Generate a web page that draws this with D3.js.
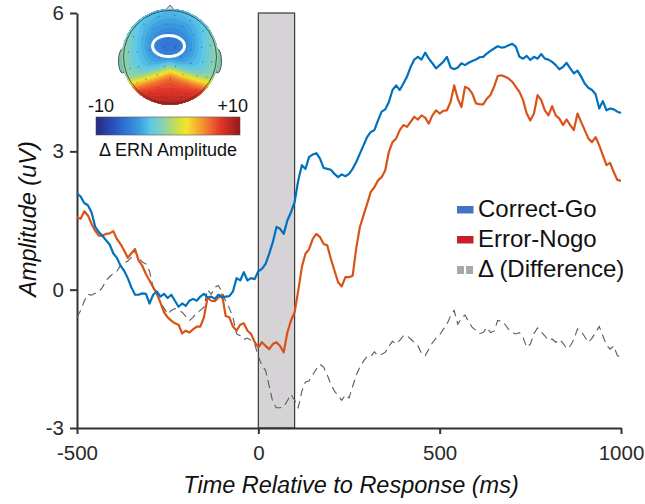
<!DOCTYPE html>
<html>
<head>
<meta charset="utf-8">
<script src="https://cdn.jsdelivr.net/npm/d3@7"></script>
<style>
  body { margin: 0; background: #fff; }
  svg { display: block; font-family: "Liberation Sans", Arial, sans-serif; }
</style>
</head>
<body>
<svg id="chart" width="645" height="504"></svg>
<script>
// sample grid: one value every 10 ms from -500 ms
const tStart = -500;
const tStep = 10;

const correctGo = [
  2.09, 2.02, 1.88, 1.83, 1.68, 1.37, 1.25, 1.17, 1.07, 0.98,
  0.79, 0.69, 0.52, 0.41, 0.25, 0.05, -0.11, -0.11, -0.08, -0.09,
  -0.30, -0.11, -0.04, -0.15, -0.09, -0.18, -0.11, -0.24, -0.37, -0.30,
  -0.35, -0.24, -0.20, -0.24, -0.15, -0.09, -0.17, -0.15, -0.20, -0.11,
  -0.17, -0.15, -0.14, -0.04, 0.25, 0.20, 0.38, 0.20, 0.25, 0.23,
  0.40, 0.45, 0.56, 0.78, 1.03, 1.36, 1.32, 1.21, 1.50, 1.68,
  1.90, 2.37, 2.70, 2.62, 2.88, 2.93, 2.96, 2.84, 2.64, 2.62,
  2.60, 2.51, 2.44, 2.50, 2.46, 2.51, 2.62, 2.77, 2.95, 3.13,
  3.31, 3.42, 3.46, 3.67, 3.86, 3.91, 4.07, 4.33, 4.43, 4.33,
  4.47, 4.62, 4.83, 4.99, 5.05, 4.99, 5.14, 5.01, 4.91, 4.80,
  4.87, 4.94, 5.05, 4.82, 4.78, 4.82, 4.91, 4.87, 4.92, 4.96,
  4.99, 5.04, 5.05, 5.12, 5.18, 5.23, 5.28, 5.25, 5.26, 5.30,
  5.33, 5.27, 5.05, 5.01, 5.07, 4.98, 5.05, 5.01, 5.11, 5.01,
  4.99, 4.94, 4.87, 4.78, 4.83, 4.92, 4.80, 4.69, 4.75, 4.62,
  4.47, 4.38, 4.33, 4.24, 3.93, 4.09, 3.89, 3.93, 3.91, 3.86, 3.83
];

const errorNogo = [
  1.57, 1.54, 1.70, 1.61, 1.43, 1.28, 1.17, 1.17, 1.21, 1.22,
  1.27, 1.10, 0.99, 0.85, 0.69, 0.79, 0.88, 0.63, 0.52, 0.34,
  0.20, 0.05, -0.08, -0.28, -0.49, -0.60, -0.67, -0.73, -0.76, -0.95,
  -0.89, -0.93, -0.86, -0.80, -0.80, -0.60, -0.17, -0.24, -0.25, -0.17,
  -0.11, -0.57, -0.60, -0.80, -0.89, -0.76, -0.73, -0.89, -0.96, -1.14,
  -1.25, -1.14, -1.22, -1.29, -1.18, -1.14, -1.22, -1.36, -0.93, -0.67,
  -0.49, -0.02, 0.49, 0.78, 0.88, 1.10, 1.21, 1.14, 0.99, 0.96,
  0.67, 0.41, 0.16, 0.07, 0.27, 0.27, 0.30, 0.90, 1.36, 1.61,
  1.86, 2.12, 2.22, 2.37, 2.44, 2.59, 2.99, 3.20, 3.28, 3.46,
  3.57, 3.53, 3.64, 3.75, 3.69, 3.78, 3.73, 3.60, 3.78, 3.89,
  3.82, 3.88, 3.89, 4.07, 4.43, 4.14, 3.96, 4.40, 4.36, 4.25,
  4.04, 4.02, 4.02, 4.14, 4.22, 4.40, 4.63, 4.65, 4.62, 4.58,
  4.51, 4.40, 4.29, 4.11, 3.82, 3.67, 3.82, 4.22, 4.11, 3.89,
  3.78, 3.98, 3.78, 3.71, 3.57, 3.69, 3.57, 3.46, 3.82, 3.64,
  3.46, 3.28, 3.20, 3.31, 3.13, 2.91, 2.70, 2.75, 2.55, 2.38, 2.36
];

const difference = [
  -0.60, -0.45, -0.25, -0.10, -0.12, -0.08, -0.05, 0.05, 0.20, 0.28,
  0.35, 0.40, 0.52, 0.58, 0.62, 0.70, 0.85, 0.68, 0.60, 0.56,
  0.40, 0.05, -0.10, -0.28, -0.40, -0.53, -0.45, -0.41, -0.45, -0.49,
  -0.58, -0.67, -0.60, -0.50, -0.45, -0.38, 0.00, -0.10, 0.05, 0.09,
  -0.05, -0.25, -0.40, -0.60, -0.96, -1.00, -1.08, -1.05, -1.10, -1.18,
  -1.45, -1.65, -1.75, -2.09, -2.45, -2.56, -2.56, -2.54, -2.41, -2.27,
  -2.40, -2.56, -2.20, -2.00, -1.98, -1.85, -1.72, -1.62, -1.68, -1.85,
  -2.05, -2.20, -2.30, -2.40, -2.28, -2.35, -2.10, -1.85, -1.68, -1.55,
  -1.45, -1.45, -1.35, -1.43, -1.40, -1.36, -1.22, -1.12, -1.18, -1.10,
  -1.00, -1.00, -1.07, -1.15, -1.22, -1.38, -1.43, -1.29, -1.15, -1.05,
  -0.98, -0.86, -0.75, -0.57, -0.45, -0.75, -0.62, -0.55, -0.70, -0.82,
  -0.88, -0.95, -0.93, -0.82, -0.93, -0.90, -0.67, -0.68, -0.75, -0.86,
  -0.93, -0.96, -0.93, -1.04, -1.25, -1.18, -0.95, -0.83, -0.92, -1.00,
  -1.10, -1.07, -1.14, -1.08, -1.16, -1.28, -1.22, -1.08, -0.85, -0.90,
  -1.02, -1.14, -1.05, -0.93, -0.80, -1.00, -1.20, -1.29, -1.22, -1.43, -1.47
];

const xTicks = [-500, 0, 500, 1000];
const yTicks = [-3, 0, 3, 6];
const ernWindow = [0, 100];
const legendLabels = ['Correct-Go', 'Error-Nogo', '\u0394 (Difference)'];
const scaleLabels = ['-10', '+10'];

const svg = d3.select('#chart');

const x = d3.scaleLinear().domain([-500, 1000]).range([77, 621]);
const y = d3.scaleLinear().domain([-3, 6]).range([428, 13]);

// grey ERN window
svg.append('rect')
  .attr('x', x(ernWindow[0]))
  .attr('y', y(6))
  .attr('width', x(ernWindow[1]) - x(ernWindow[0]))
  .attr('height', y(-3) - y(6))
  .attr('fill', '#d5d3d5')
  .attr('stroke', '#3a3a3a')
  .attr('stroke-width', 1.2);

// axes
const yAxis = svg.append('g')
  .attr('transform', 'translate(77,0)')
  .call(d3.axisLeft(y).tickValues(yTicks).tickSize(7).tickSizeOuter(0)
    .tickPadding(6).tickFormat(d => String(d)));

const xAxis = svg.append('g')
  .attr('transform', 'translate(0,428)')
  .call(d3.axisBottom(x).tickValues(xTicks).tickSize(6).tickSizeOuter(0)
    .tickPadding(11).tickFormat(d => String(d)));

[yAxis, xAxis].forEach(g => {
  g.select('.domain').attr('stroke', '#333').attr('stroke-width', 2);
  g.selectAll('.tick line').attr('stroke', '#333').attr('stroke-width', 2);
  g.selectAll('.tick text')
    .attr('fill', '#2a2a2a')
    .style('font-size', '20.5px')
    .style('font-family', '"Liberation Sans", Arial, sans-serif');
});

// axis titles
svg.append('text')
  .attr('x', 351)
  .attr('y', 493)
  .attr('text-anchor', 'middle')
  .style('font-size', '23.5px')
  .style('font-style', 'italic')
  .attr('fill', '#111')
  .text('Time Relative to Response (ms)');

svg.append('text')
  .attr('transform', 'translate(36,219) rotate(-90)')
  .attr('text-anchor', 'middle')
  .style('font-size', '23.5px')
  .style('font-style', 'italic')
  .attr('fill', '#111')
  .text('Amplitude (uV)');

// waveforms
const line = d3.line()
  .x((d, i) => x(tStart + i * tStep))
  .y(d => y(d));

svg.append('path')
  .attr('d', line(difference))
  .attr('fill', 'none')
  .attr('stroke', '#5a5a5a')
  .attr('stroke-width', 1.1)
  .attr('stroke-dasharray', '8,5');

svg.append('path')
  .attr('d', line(errorNogo))
  .attr('fill', 'none')
  .attr('stroke', '#D95319')
  .attr('stroke-width', 2.2)
  .attr('stroke-linejoin', 'round');

svg.append('path')
  .attr('d', line(correctGo))
  .attr('fill', 'none')
  .attr('stroke', '#0072BD')
  .attr('stroke-width', 2.2)
  .attr('stroke-linejoin', 'round');

// legend
const legend = svg.append('g');
const legendColors = ['#4472C4', '#C8202A'];
legendLabels.forEach((label, i) => {
  const by = 217 + i * 30;
  if (i < 2) {
    legend.append('rect')
      .attr('x', 457).attr('y', by - 11)
      .attr('width', 16.5).attr('height', 7.5)
      .attr('fill', legendColors[i]);
  } else {
    [457, 466].forEach(sx => {
      legend.append('rect')
        .attr('x', sx).attr('y', by - 11)
        .attr('width', 7).attr('height', 8)
        .attr('fill', '#a8a8a8');
    });
  }
  legend.append('text')
    .attr('x', 478)
    .attr('y', by)
    .style('font-size', '24px')
    .attr('fill', '#111')
    .text(label);
});

// scalp topography inset
const jetStops = [0, 0.15, 0.3, 0.38, 0.48, 0.57, 0.63, 0.73, 0.86, 1];
const jetColors = ['#26287f', '#2b5cc9', '#3a9ce0', '#5cc8ea', '#92d2a6',
  '#cfe044', '#f6e32b', '#f59b31', '#e5372a', '#941818'];
const jet = d3.scaleLinear()
  .domain(jetStops.map(s => -10 + 20 * s))
  .range(jetColors)
  .clamp(true);

const cx = 170, cy = 57, r = 48;
const defs = svg.append('defs');
defs.append('clipPath').attr('id', 'head-clip')
  .append('circle').attr('cx', cx).attr('cy', cy).attr('r', r);

const grad = defs.append('linearGradient').attr('id', 'jet-grad');
jetStops.forEach((s, i) => {
  grad.append('stop').attr('offset', s).attr('stop-color', jetColors[i]);
});

const topo = svg.append('g');

// nose
topo.append('path')
  .attr('d', `M${cx - 6},${cy - r + 3} L${cx},${cy - r - 4} L${cx + 6},${cy - r + 3}Z`)
  .attr('fill', '#cfd6da')
  .attr('stroke', '#444')
  .attr('stroke-width', 0.8);

// ears
[-1, 1].forEach(side => {
  topo.append('ellipse')
    .attr('cx', cx + side * (r - 0.5))
    .attr('cy', cy + 4)
    .attr('rx', 4).attr('ry', 12)
    .attr('fill', '#78c4a8')
    .attr('stroke', '#333')
    .attr('stroke-width', 0.8);
});

// scalar field for the map picture
const n = 70;
const field = new Array(n * n);
for (let j = 0; j < n; j++) {
  for (let i = 0; i < n; i++) {
    const u = (i + 0.5) / n * 2 - 1;
    const w = (j + 0.5) / n * 2 - 1;
    const top = -3.8 - 2.2 * Math.exp(-(u * u / 0.25 + (w + 0.25) * (w + 0.25) / 0.12))
      + 3.6 * u * u + 3 * Math.max(0, -w - 0.65);
    const bot = 7 + 5 * Math.max(0, w - 0.6);
    const w0 = 0.26 + 0.36 * Math.abs(u);
    const s = 1 / (1 + Math.exp(-(w - w0) / 0.09));
    field[j * n + i] = top + (bot - top) * s;
  }
}
const contours = d3.contours().size([n, n]).thresholds(d3.range(-10, 10.01, 0.5))(field);
const proj = d3.geoIdentity().scale(2 * r / n).translate([cx - r, cy - r]);
const topoPath = d3.geoPath(proj);
const mapG = topo.append('g').attr('clip-path', 'url(#head-clip)');
mapG.append('circle').attr('cx', cx).attr('cy', cy).attr('r', r).attr('fill', jet(-4));
mapG.selectAll('path.band')
  .data(contours)
  .enter()
  .append('path')
  .attr('class', 'band')
  .attr('d', topoPath)
  .attr('fill', d => jet(d.value + 0.25));

// electrode dots
const dots = [];
[0.25, 0.5, 0.75, 0.95].forEach((rr, k) => {
  const count = [6, 10, 14, 16][k];
  for (let m = 0; m < count; m++) {
    const a = (m / count) * 2 * Math.PI + k * 0.3;
    dots.push([cx + rr * (r - 4) * Math.cos(a), cy + rr * (r - 4) * Math.sin(a)]);
  }
});
dots.push([cx, cy]);
topo.selectAll('circle.dot')
  .data(dots)
  .enter()
  .append('circle')
  .attr('class', 'dot')
  .attr('cx', d => d[0]).attr('cy', d => d[1])
  .attr('r', 0.7)
  .attr('fill', '#2a3a5a')
  .attr('opacity', 0.5);

topo.append('circle')
  .attr('cx', cx).attr('cy', cy).attr('r', r - 1.5)
  .attr('fill', 'none')
  .attr('stroke', '#333')
  .attr('stroke-width', 0.8);

// ERN site marker
topo.append('ellipse')
  .attr('cx', 168.5).attr('cy', 46)
  .attr('rx', 16).attr('ry', 10.5)
  .attr('fill', 'none')
  .attr('stroke', '#fff')
  .attr('stroke-width', 3);

// colour bar
topo.append('rect')
  .attr('x', 96).attr('y', 117)
  .attr('width', 144).attr('height', 18)
  .attr('fill', 'url(#jet-grad)')
  .attr('stroke', '#555')
  .attr('stroke-width', 0.6);

topo.append('text')
  .attr('x', 88).attr('y', 112)
  .style('font-size', '18px')
  .attr('fill', '#111')
  .text(scaleLabels[0]);

topo.append('text')
  .attr('x', 248).attr('y', 112)
  .attr('text-anchor', 'end')
  .style('font-size', '18px')
  .attr('fill', '#111')
  .text(scaleLabels[1]);

topo.append('text')
  .attr('x', 168).attr('y', 156)
  .attr('text-anchor', 'middle')
  .style('font-size', '18px')
  .attr('fill', '#111')
  .text('\u0394 ERN Amplitude');
</script>
</body>
</html>
